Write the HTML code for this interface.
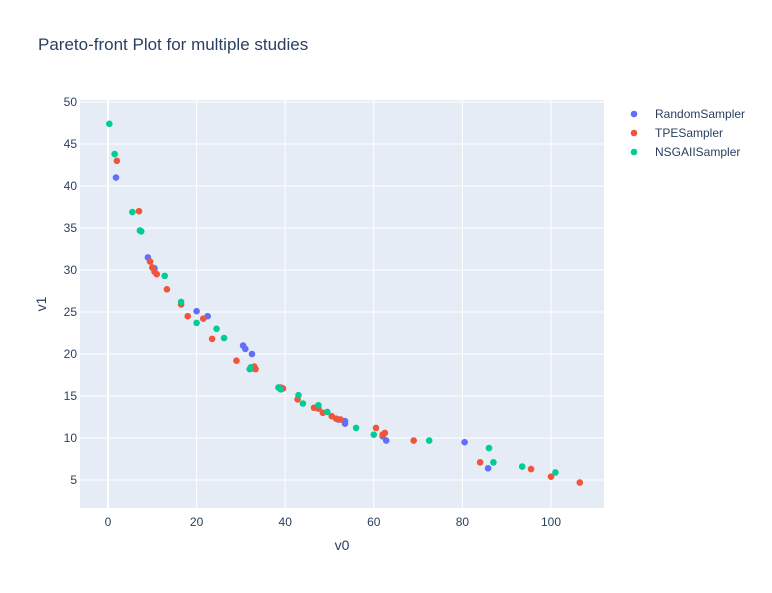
<!DOCTYPE html>
<html><head><meta charset="utf-8"><style>
body{margin:0;background:#fff;font-family:"Liberation Sans",sans-serif;}
svg text{font-family:"Liberation Sans",sans-serif;fill:#2a3f5f;}
</style></head><body>
<svg id="chart" width="772" height="588">
<rect x="0" y="0" width="772" height="588" fill="#fff"/>
<text x="38" y="50" font-size="17">Pareto-front Plot for multiple studies</text>
<rect x="80" y="100" width="524" height="408" fill="#e5ecf6"/>
<g id="grid"></g><g id="ticks"></g><g id="points"></g>
<text x="342" y="550" font-size="14" text-anchor="middle">v0</text>
<text x="46" y="304" font-size="14" text-anchor="middle" transform="rotate(-90 46 304)">v1</text>
<g id="legend"></g>
</svg>
<script>
const seriesNames=["RandomSampler","TPESampler","NSGAIISampler"];
const seriesColors=["#636efa","#EF553B","#00cc96"];
const randomX=[1.8,9,10.5,20,22.5,30.5,31,32.5,38.5,52,53.5,53.5,62,62.8,80.5,85.8];
const randomY=[41,31.5,30.2,25.1,24.5,21,20.6,20,16,12.2,12,11.7,10.2,9.7,9.5,6.4];
const tpeX=[2,7,9.5,10,10.5,11,13.3,16.5,18,21.5,23.5,29,32.5,33,33.3,39,39.5,42.8,46.5,47.5,48.5,50.5,51.5,52.5,60.5,62,62.5,69,84,95.5,100,106.5];
const tpeY=[43,37,31,30.3,29.8,29.5,27.7,25.9,24.5,24.2,21.8,19.2,18.3,18.5,18.2,16,15.9,14.6,13.6,13.5,13,12.6,12.3,12.2,11.2,10.4,10.6,9.7,7.1,6.3,5.4,4.7];
const nsgaX=[0.3,1.5,5.5,7.2,7.5,12.8,16.5,20,24.5,26.2,32,32.2,38.5,39,43,44,47.5,49.5,56,60,72.5,86,87,93.5,101];
const nsgaY=[47.4,43.8,36.9,34.7,34.6,29.3,26.2,23.7,23,21.9,18.2,18.4,16,15.8,15.1,14.1,13.9,13.1,11.2,10.4,9.7,8.8,7.1,6.6,5.9];
const xTicks=[0,20,40,60,80,100];
const yTicks=[5,10,15,20,25,30,35,40,45,50];
const NS="http://www.w3.org/2000/svg";
const xs=v=>108+v*4.43, ys=v=>480-(v-5)*8.4;
function mk(tag,attrs,parent,txt){const e=document.createElementNS(NS,tag);for(const k in attrs)e.setAttribute(k,attrs[k]);if(txt!==undefined)e.textContent=txt;document.getElementById(parent).appendChild(e);return e;}
xTicks.forEach(t=>{
 const l=mk('line',{x1:xs(t),x2:xs(t),y1:100,y2:508,stroke:'#fff','stroke-width':t===0?2:1},'grid');
 
 
 const tx=mk('text',{x:xs(t),y:526,'font-size':12,'text-anchor':'middle'},'ticks',String(t));
 
 
});
yTicks.forEach(t=>{
 const l=mk('line',{x1:80,x2:604,y1:ys(t),y2:ys(t),stroke:'#fff','stroke-width':1},'grid');
 
 
 const tx=mk('text',{x:77,y:ys(t)+4,'font-size':12,'text-anchor':'end'},'ticks',String(t));
 
 
});
const data=[[randomX,randomY],[tpeX,tpeY],[nsgaX,nsgaY]];
data.forEach((d,i)=>{
 d[0].forEach((x,j)=>{
  const c=mk('circle',{cx:xs(x),cy:ys(d[1][j]),r:3.3,fill:seriesColors[i]},'points');
  
  
 });
 const y=114+i*19;
 const m=mk('circle',{cx:634,cy:y,r:3.3,fill:seriesColors[i]},'legend');
 
 
 const t=mk('text',{x:655,y:y+4,'font-size':12},'legend',seriesNames[i]);
 
 
});
</script>
</body></html>
